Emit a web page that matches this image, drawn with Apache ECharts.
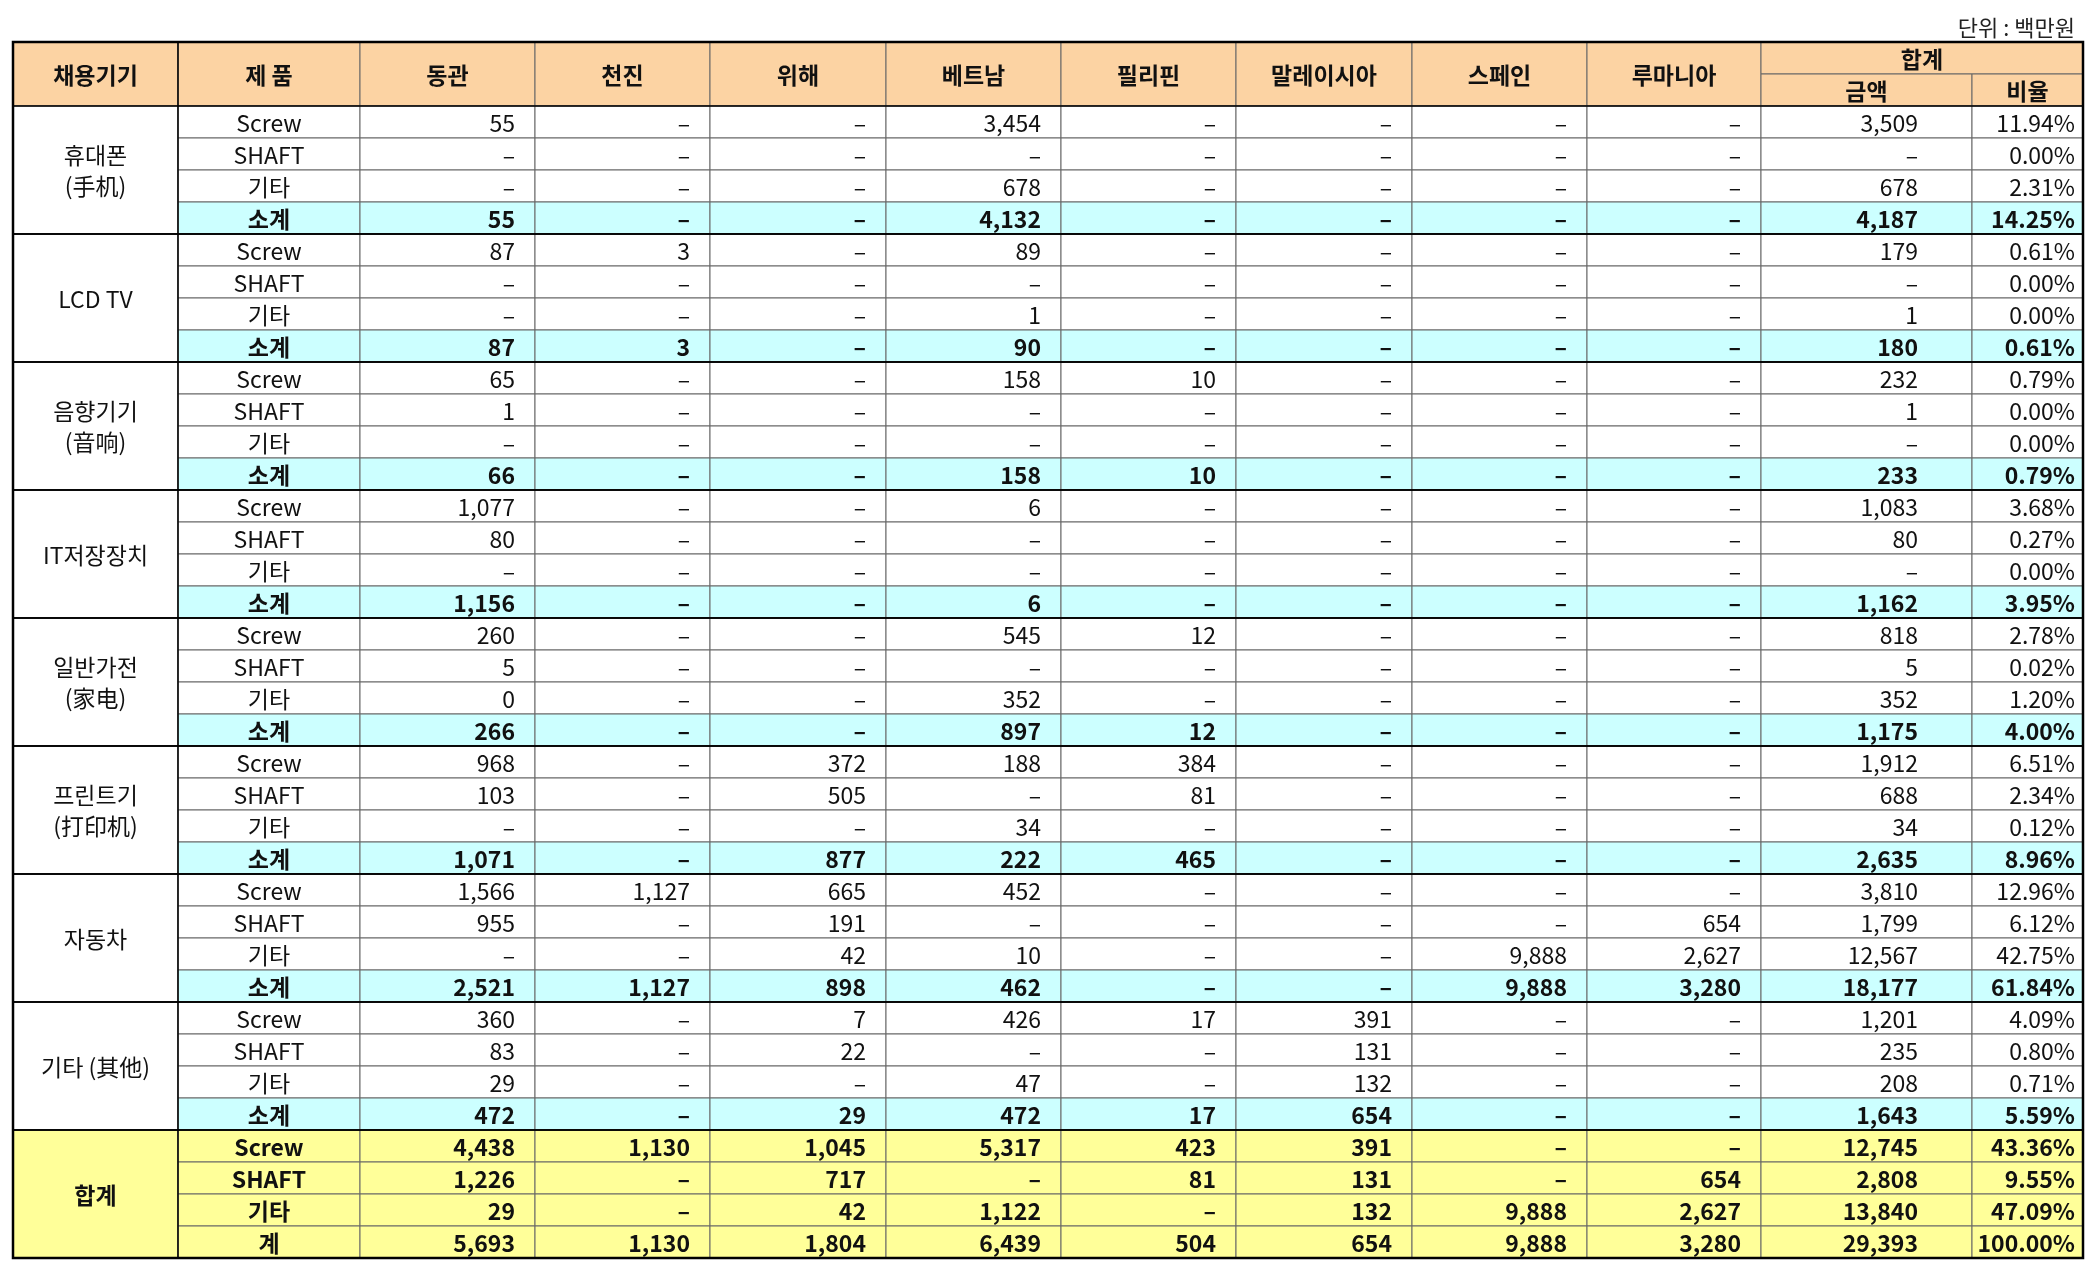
<!DOCTYPE html>
<html>
<head>
<meta charset="utf-8">
<title>채용기기별 매출</title>
<script src="https://cdn.jsdelivr.net/npm/echarts@6/dist/echarts.min.js"></script>
<style>html,body{margin:0;background:#fff}</style>
</head>
<body>
<div id="main" style="width:2098px;height:1272px;"></div>
<script>
const columns = ['동관', '천진', '위해', '베트남', '필리핀', '말레이시아', '스페인', '루마니아'];
const groups = ['휴대폰\n(手机)', 'LCD TV', '음향기기\n(音响)', 'IT저장장치', '일반가전\n(家电)', '프린트기\n(打印机)', '자동차', '기타 (其他)', '합계'];
const products = ['Screw', 'SHAFT', '기타', '소계'];
const totalProducts = ['Screw', 'SHAFT', '기타', '계'];
const N = null;
// 8 regions + 금액 + 비율(%)
const values = [
  [[55,N,N,3454,N,N,N,N,3509,11.94],[N,N,N,N,N,N,N,N,N,0.00],[N,N,N,678,N,N,N,N,678,2.31],[55,N,N,4132,N,N,N,N,4187,14.25]],
  [[87,3,N,89,N,N,N,N,179,0.61],[N,N,N,N,N,N,N,N,N,0.00],[N,N,N,1,N,N,N,N,1,0.00],[87,3,N,90,N,N,N,N,180,0.61]],
  [[65,N,N,158,10,N,N,N,232,0.79],[1,N,N,N,N,N,N,N,1,0.00],[N,N,N,N,N,N,N,N,N,0.00],[66,N,N,158,10,N,N,N,233,0.79]],
  [[1077,N,N,6,N,N,N,N,1083,3.68],[80,N,N,N,N,N,N,N,80,0.27],[N,N,N,N,N,N,N,N,N,0.00],[1156,N,N,6,N,N,N,N,1162,3.95]],
  [[260,N,N,545,12,N,N,N,818,2.78],[5,N,N,N,N,N,N,N,5,0.02],[0,N,N,352,N,N,N,N,352,1.20],[266,N,N,897,12,N,N,N,1175,4.00]],
  [[968,N,372,188,384,N,N,N,1912,6.51],[103,N,505,N,81,N,N,N,688,2.34],[N,N,N,34,N,N,N,N,34,0.12],[1071,N,877,222,465,N,N,N,2635,8.96]],
  [[1566,1127,665,452,N,N,N,N,3810,12.96],[955,N,191,N,N,N,N,654,1799,6.12],[N,N,42,10,N,N,9888,2627,12567,42.75],[2521,1127,898,462,N,N,9888,3280,18177,61.84]],
  [[360,N,7,426,17,391,N,N,1201,4.09],[83,N,22,N,N,131,N,N,235,0.80],[29,N,N,47,N,132,N,N,208,0.71],[472,N,29,472,17,654,N,N,1643,5.59]],
  [[4438,1130,1045,5317,423,391,N,N,12745,43.36],[1226,N,717,N,81,131,N,654,2808,9.55],[29,N,42,1122,N,132,9888,2627,13840,47.09],[5693,1130,1804,6439,504,654,9888,3280,29393,100.00]]
];

// layout: column edges in px along the x axis, right padding per column
const colEdges = [13, 178, 360, 535, 710, 886, 1061, 1236, 1412, 1587, 1761, 1972, 2083];
const padRight = [0, 0, 20, 20, 20, 20, 20, 20, 20, 20, 54, 8];
const FONT = '"Noto Sans CJK KR", sans-serif';
const HEAD_BG = '#fcd3a3', SUB_BG = '#ccffff', TOT_BG = '#ffff99';

const fmt = v => v === null ? '–' : v.toLocaleString('en-US');
const cells = [];
function cell(c0, c1, r0, r1, text, opt) {
  cells.push(Object.assign({ c0, c1, r0, r1, text, fill: '#fff', bold: false, align: 'center' }, opt));
}

// header (rows -2..0)
cell(0, 1, -2, 0, '채용기기', { fill: HEAD_BG, bold: true });
cell(1, 2, -2, 0, '제 품', { fill: HEAD_BG, bold: true });
columns.forEach((c, i) => cell(2 + i, 3 + i, -2, 0, c, { fill: HEAD_BG, bold: true }));
cell(10, 12, -2, -1, '합계', { fill: HEAD_BG, bold: true });
cell(10, 11, -1, 0, '금액', { fill: HEAD_BG, bold: true });
cell(11, 12, -1, 0, '비율', { fill: HEAD_BG, bold: true });

values.forEach((g, gi) => {
  const isTot = gi === groups.length - 1;
  const r = gi * 4;
  cell(0, 1, r, r + 4, groups[gi], { fill: isTot ? TOT_BG : '#fff', bold: isTot });
  g.forEach((row, pi) => {
    const sub = pi === 3 || isTot;
    const fill = isTot ? TOT_BG : (pi === 3 ? SUB_BG : '#fff');
    cell(1, 2, r + pi, r + pi + 1, (isTot ? totalProducts : products)[pi], { fill, bold: sub });
    row.forEach((v, ci) => {
      const t = ci === 9 ? v.toFixed(2) + '%' : fmt(v);
      cell(2 + ci, 3 + ci, r + pi, r + pi + 1, t, { fill, bold: sub, align: 'right' });
    });
  });
});
// heavy borders: per group and outer frame
const frames = [];
groups.forEach((g, gi) => frames.push({ c0: 0, c1: 12, r0: gi * 4, r1: gi * 4 + 4, w: 1.5 }));
frames.push({ c0: 0, c1: 1, r0: -2, r1: 36, w: 1.5 });
frames.push({ c0: 0, c1: 12, r0: -2, r1: 36, w: 2.5 });

const chart = echarts.init(document.getElementById('main'));
chart.setOption({
  animation: false,
  title: { text: '단위 : 백만원', right: 18, top: 12, textStyle: { fontFamily: FONT, fontSize: 22, fontWeight: 'normal', color: '#222' } },
  grid: { left: 0, right: 0, top: 42, bottom: 14 },
  xAxis: { type: 'value', min: 0, max: 2098, show: false },
  yAxis: { type: 'value', min: -2, max: 36, inverse: true, show: false },
  series: [{
    type: 'custom',
    coordinateSystem: 'cartesian2d',
    data: cells.map((c, i) => [colEdges[c.c0], c.r0, i]),
    renderItem: (params, api) => {
      const c = cells[params.dataIndex];
      const p0 = api.coord([colEdges[c.c0], c.r0]);
      const p1 = api.coord([colEdges[c.c1], c.r1]);
      return {
        type: 'group',
        children: [
          { type: 'rect', shape: { x: p0[0], y: p0[1], width: p1[0] - p0[0], height: p1[1] - p0[1] },
            style: { fill: c.fill, stroke: '#666', lineWidth: 1 } },
          { type: 'text', style: {
              text: c.text, x: c.align === 'right' ? p1[0] - padRight[c.c0] : (p0[0] + p1[0]) / 2, y: (p0[1] + p1[1]) / 2 + 1,
              align: c.align, verticalAlign: 'middle', fontFamily: FONT, fontSize: 23,
              fontWeight: c.bold ? 'bold' : 'normal', fill: '#111', lineHeight: 31 } }
        ]
      };
    }
  }, {
    type: 'custom',
    coordinateSystem: 'cartesian2d',
    data: frames.map((f, i) => [colEdges[f.c0], f.r0, i]),
    renderItem: (params, api) => {
      const f = frames[params.dataIndex];
      const p0 = api.coord([colEdges[f.c0], f.r0]);
      const p1 = api.coord([colEdges[f.c1], f.r1]);
      return { type: 'rect', shape: { x: p0[0], y: p0[1], width: p1[0] - p0[0], height: p1[1] - p0[1] },
        style: { fill: 'none', stroke: '#000', lineWidth: f.w } };
    }
  }]
});
</script>
</body>
</html>
